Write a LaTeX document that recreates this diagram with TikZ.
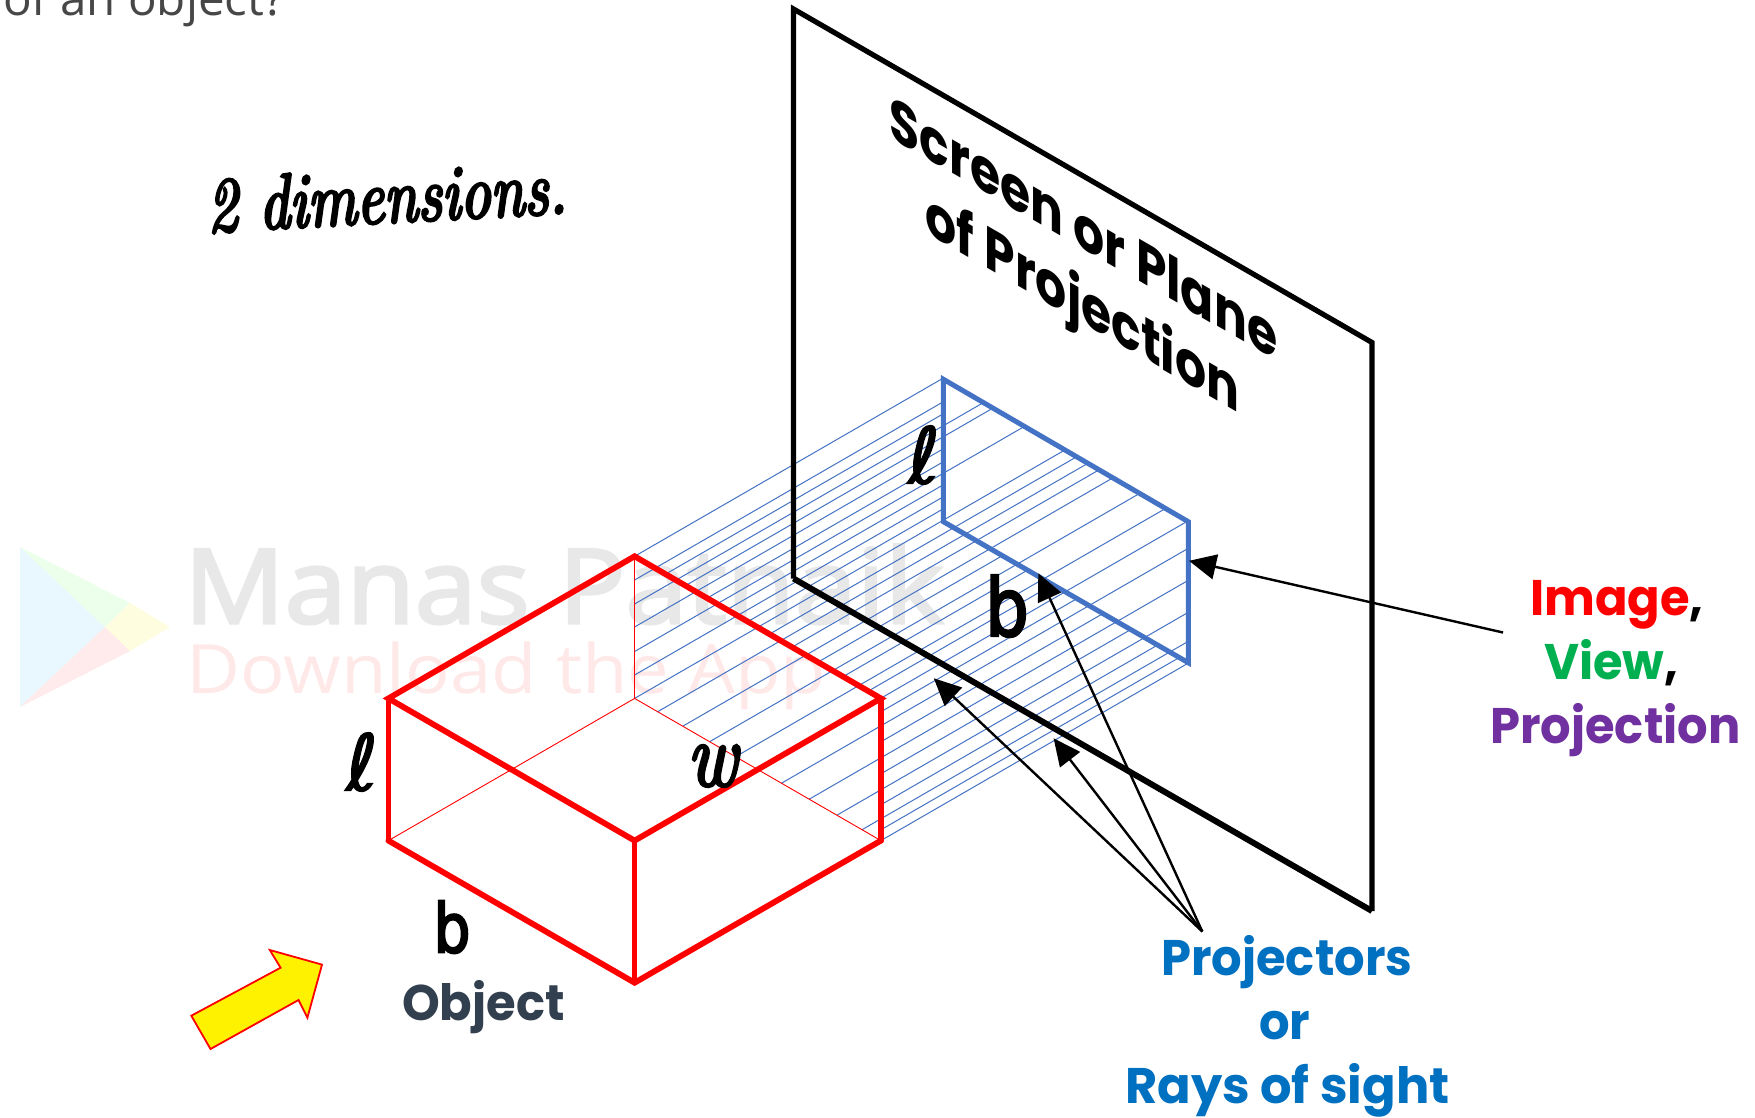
\documentclass[tikz,border=0pt]{standalone}
\usepackage{fontspec}
\usetikzlibrary{arrows.meta}
\newfontfamily\labelfont[FakeStretch=0.96]{Poppins Bold}
\newfontfamily\raysfont[FakeStretch=0.99]{Poppins Bold}
\newfontfamily\capfont[FakeStretch=0.94]{Poppins Bold}
\newfontfamily\wmfont{Open Sans}
\newfontfamily\wmname[FakeBold=3,FakeStretch=1.08]{Open Sans}
\newfontfamily\wmsub[FakeStretch=1.09]{Open Sans}
\newfontfamily\handtwo[Extension=.otf,FakeBold=3.4,FakeStretch=0.765]{lmroman10-italic}
\newfontfamily\handw[Extension=.otf,FakeBold=3,FakeStretch=0.82]{lmroman10-italic}
\newfontfamily\handell[FakeBold=1.6]{DejaVu Sans}
\newfontfamily\handup[FakeBold=3.2,FakeStretch=0.85]{DejaVu Sans}
\definecolor{imgblue}{HTML}{4472C4}
\definecolor{objred}{HTML}{FF0000}
\definecolor{lblblue}{HTML}{0070C0}
\definecolor{lblgreen}{HTML}{00B050}
\definecolor{lblpurple}{HTML}{7030A0}
\definecolor{slate}{HTML}{323F4F}
\tikzset{
  redthick/.style={draw=objred,line width=5.8pt,line cap=round,line join=miter},
  redthin/.style={draw=objred,line width=0.9pt},
  bluethick/.style={draw=imgblue,line width=5pt,line join=miter},
  hatchline/.style={draw=imgblue,line width=1pt},
  screenline/.style={draw=black,line width=5.2pt,line join=miter},
  pointer/.style={draw=black,line width=2.4pt,-{Triangle[length=27pt,width=25pt]}},
  lbl/.style={inner sep=0pt,anchor=base west,font=\fontsize{50}{50}\labelfont},
  handmark/.style={inner sep=0pt,text=black}
}
\newcommand{\hatchseg}[3]{%
  \pgfmathsetmacro{\ya}{#1-0.5774*(#2-634.6)}%
  \pgfmathsetmacro{\yb}{#1-0.5774*(#3-634.6)}%
  \draw[hatchline] (#2,\ya) -- (#3,\yb);%
}
\begin{document}
\begin{tikzpicture}[x=1pt,y=-1pt]
\useasboundingbox (0,0) rectangle (1755,1117);
\clip (0,0) rectangle (1755,1117);
\fill[white] (0,0) rectangle (1755,1117);

% header
\node[inner sep=0pt,anchor=base west,text=black!72,font=\fontsize{47.5}{47.5}\wmfont] (hdr) at (3,15) {of an object?};

% watermark
\fill[fill=cyan!9!white,line join=round] (20,547) -- (105,627) -- (20,707) -- cycle;
\fill[fill=green!8!white] (20,547) -- (130,603) -- (105,627) -- cycle;
\fill[fill=red!8!white] (20,707) -- (130,651) -- (105,627) -- cycle;
\fill[fill=yellow!12!white] (130,603) -- (170,627) -- (130,651) -- (105,627) -- cycle;
\node[inner sep=0pt,anchor=base west,text=black!9,font=\fontsize{103}{103}\wmname] (wma) at (184,623) {Manas Patnaik};
\node[inner sep=0pt,anchor=base west,text=red!9,font=\fontsize{68}{68}\wmsub] (wmb) at (186,693) {Download the App};

% corners
\coordinate (bkt) at (634.6,556.3);
\coordinate (bkm) at (634.6,698.4);
\coordinate (lt) at (388.4,698.4);
\coordinate (ll) at (388.4,840.6);
\coordinate (ft) at (634.6,840.6);
\coordinate (fb) at (634.6,982.7);
\coordinate (rt) at (880.9,698.4);
\coordinate (rb) at (880.9,840.6);
\coordinate (stl) at (793.5,9);
\coordinate (str) at (1372,342.5);
\coordinate (sbr) at (1372,911);
\coordinate (sbl) at (793.5,578.5);
\coordinate (itl) at (943.4,379.3);
\coordinate (itr) at (1188.3,521.7);
\coordinate (ibr) at (1188.3,662.7);
\coordinate (ibl) at (943.4,521.7);

% projectors from the hidden vertical edge to the image's left edge
\foreach \c in {556.3,580,627,675} {\hatchseg{\c}{634.6}{943.4}}
% ... those that run on to the image's top edge
\foreach \c in {604,651.5,698.4} {\pgfmathsetmacro{\xe}{943.4+(\c-557.6)/1.1547}\hatchseg{\c}{634.6}{\xe}}
% from the box's top right edge to the image's left edge
\foreach \c in {592,640,663,687} {\pgfmathsetmacro{\xs}{634.6+(\c-556.3)/1.1547}\hatchseg{\c}{\xs}{943.4}}
% from the box's top right edge to the image's top edge
\foreach \c in {615,712,738} {\pgfmathsetmacro{\xs}{634.6+(\c-556.3)/1.1547}\pgfmathsetmacro{\xe}{943.4+(\c-557.6)/1.1547}\hatchseg{\c}{\xs}{\xe}}
% from the hidden lower edge to the image's top edge
\foreach \c in {725,754,785,815,840.4} {\pgfmathsetmacro{\xs}{634.6+(\c-698.4)/1.1547}\pgfmathsetmacro{\xe}{943.4+(\c-557.6)/1.1547}\hatchseg{\c}{\xs}{\xe}}
% from the hidden lower edge to the image's right edge
\foreach \c in {868,900,932,961,982.8} {\pgfmathsetmacro{\xs}{634.6+(\c-698.4)/1.1547}\hatchseg{\c}{\xs}{1188.3}}
% from the box's top right edge to the image's lower edge
\foreach \c in {768,797,826} {\pgfmathsetmacro{\xs}{634.6+(\c-556.3)/1.1547}\pgfmathsetmacro{\xe}{943.4+(\c-700)/1.1547}\hatchseg{\c}{\xs}{\xe}}
% from the box's right edge to the image's lower edge
\foreach \c in {854,884,916,947,972} {\pgfmathsetmacro{\xe}{943.4+(\c-700)/1.1547}\hatchseg{\c}{880.9}{\xe}}

% hidden box edges
\draw[redthin] (bkt) -- (bkm);
\draw[redthin] (ll) -- (bkm) -- (rb);

% screen
\draw[screenline] (sbl) -- (stl) -- (str) -- (sbr);
\draw[screenline,line width=6pt] (sbl) -- (sbr);

% image
\draw[bluethick] (ibl) -- (itl) -- (itr) -- (ibr) -- cycle;

% box
\draw[redthick] (lt) -- (bkt) -- (rt) -- (ft) -- cycle;
\draw[redthick,line width=4.6pt] (lt) -- (ll);
\draw[redthick] (ll) -- (fb) -- (rb);
\draw[redthick,line width=5pt] (ft) -- (fb);
\draw[redthick] (rt) -- (rb);

% yellow arrow
\draw[draw=objred,line width=1.8pt,fill=yellow,line join=miter] (191.3,1015.7) -- (280.6,967.7) -- (269.8,950) -- (322,964.6) -- (307.4,1017.7) -- (298.5,1000) -- (210.5,1049) -- cycle;

% labels
\node[lbl,text=objred] (image) at (1530,615) {Image\textcolor{black}{,}};
\node[lbl,text=lblgreen] (view) at (1544,679) {View\textcolor{black}{,}};
\node[lbl,text=lblpurple] (proj) at (1490,743) {Projection};
\node[lbl,text=lblblue] (projectors) at (1161,975) {Projectors};
\node[lbl,text=lblblue] (orw) at (1259,1039) {or};
\node[lbl,text=lblblue,font=\fontsize{50}{50}\raysfont] (rays) at (1125,1103) {Rays of sight};
\node[lbl,text=slate] (obj) at (402,1020) {Object};

% pointers
\coordinate (imgsrc) at (1503,632.5);
\coordinate (imgtip) at (1189,560.8);
\coordinate (raysrc) at (1202.3,931.5);
\coordinate (raytipa) at (1038.3,573.3);
\coordinate (raytipb) at (1053.6,738.3);
\coordinate (raytipc) at (933.8,678.3);
\draw[pointer] (imgsrc) -- (imgtip);
\draw[pointer] (raysrc) -- (raytipa);
\draw[pointer] (raysrc) -- (raytipb);
\draw[pointer] (raysrc) -- (raytipc);

% screen caption, in the plane of the screen
\begin{scope}[shift={(1083.5,249)},cm={0.866,-0.5,0,1,(0,0)}]
\node[transform shape,inner sep=0pt,anchor=base,font=\fontsize{60}{60}\capfont] (capa) at (0,0) {Screen or Plane};
\end{scope}
\begin{scope}[shift={(1082.5,323)},cm={0.866,-0.5,0,1,(0,0)}]
\node[transform shape,inner sep=0pt,anchor=base,font=\fontsize{60}{60}\capfont] (capb) at (0,0) {of Projection};
\end{scope}

% handwriting
\node[handmark,anchor=base west,rotate=3,font=\fontsize{78}{78}\handtwo] (dims) at (208,232) {2 dimensions.};
\node[handmark,font=\fontsize{78}{78}\handell] (ella) at (362,762) {ℓ};
\node[handmark,font=\fontsize{78}{78}\handell] (ellb) at (924,455) {ℓ};
\node[handmark,font=\fontsize{68}{68}\handup] (ba) at (452,927) {b};
\node[handmark,font=\fontsize{80}{80}\handup] (bb) at (1007,606) {b};
\node[handmark,font=\fontsize{92}{92}\handw] (wa) at (712,766) {w};
\end{tikzpicture}
\end{document}
